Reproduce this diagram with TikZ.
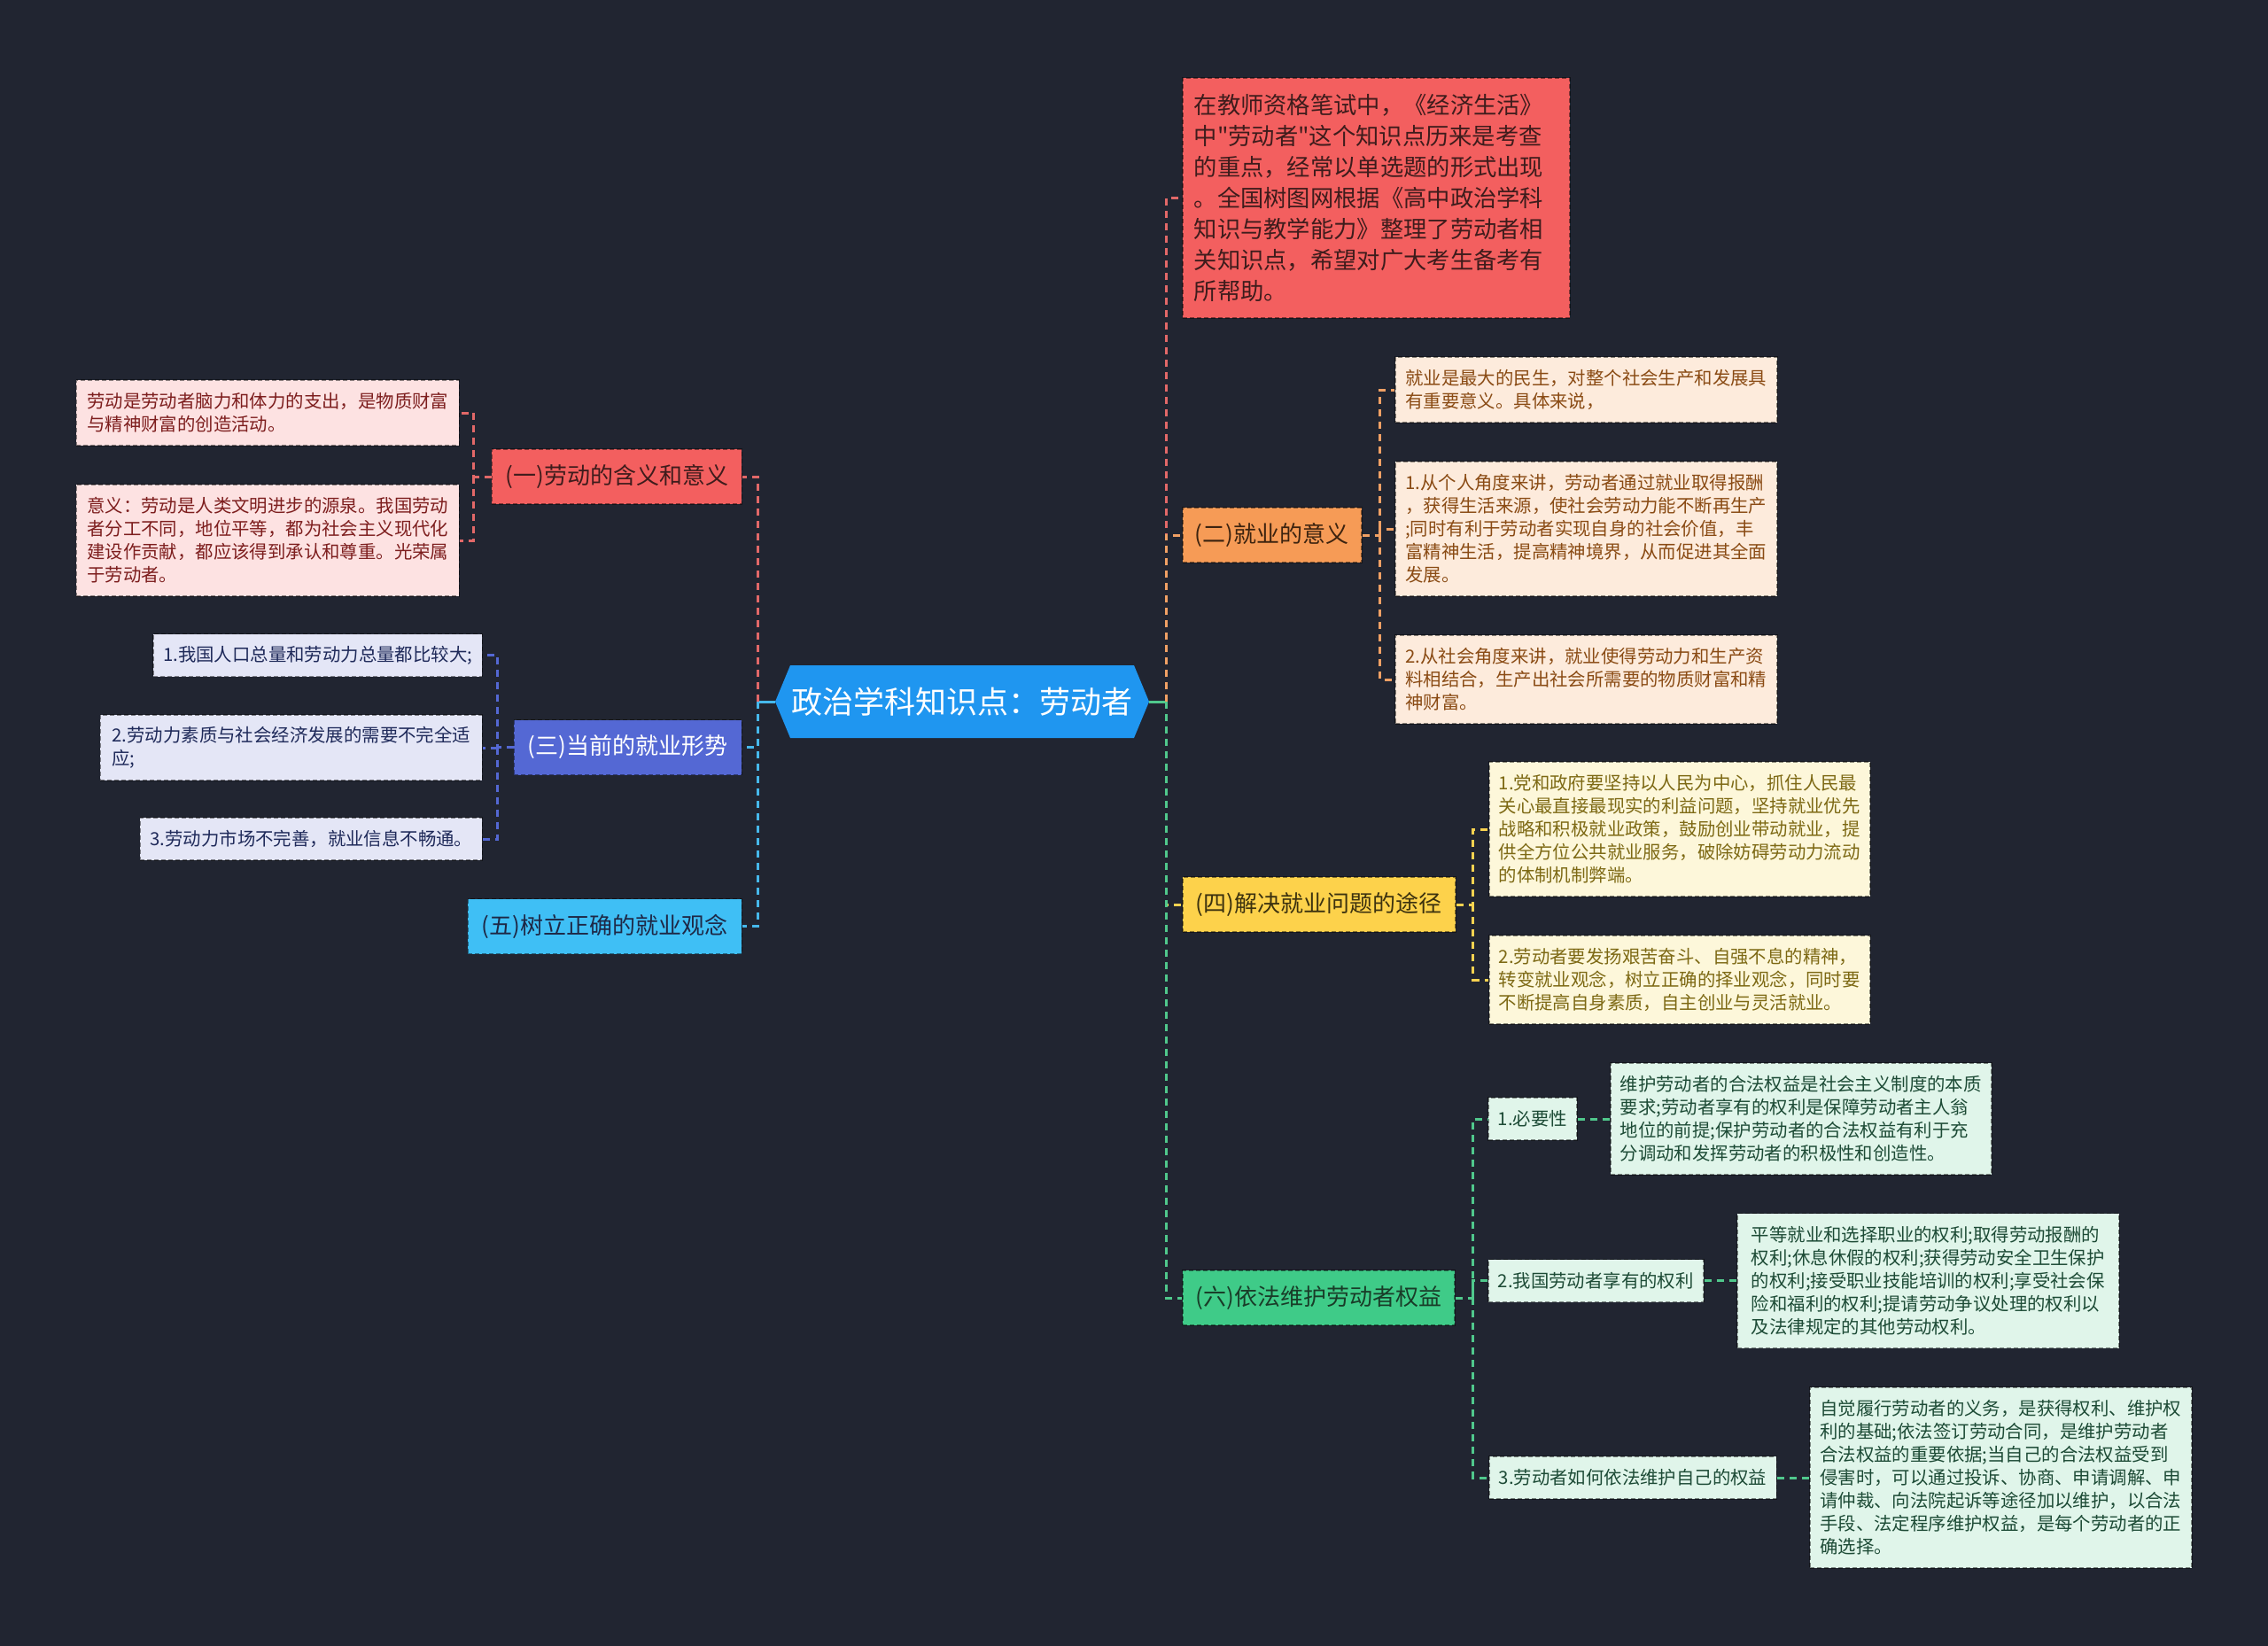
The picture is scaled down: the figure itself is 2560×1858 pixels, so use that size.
\documentclass[tikz,border=0pt]{standalone}
\usepackage{fontspec}
\setmainfont{Noto Sans CJK SC}[Ligatures=TeXOff]
\usetikzlibrary{calc}
\definecolor{bgc}{RGB}{33,37,49}
\definecolor{rootc}{RGB}{31,150,240}
\definecolor{redf}{RGB}{243,95,95}
\definecolor{redl}{RGB}{226,104,104}
\definecolor{redt}{RGB}{62,28,28}
\definecolor{pinkf}{RGB}{253,226,226}
\definecolor{pinkt}{RGB}{125,30,30}
\definecolor{indf}{RGB}{84,104,212}
\definecolor{indl}{RGB}{84,104,212}
\definecolor{lavf}{RGB}{228,230,246}
\definecolor{lavt}{RGB}{31,42,90}
\definecolor{cyanf}{RGB}{63,191,245}
\definecolor{cyanl}{RGB}{70,184,235}
\definecolor{cyant}{RGB}{30,40,70}
\definecolor{orf}{RGB}{246,155,86}
\definecolor{orl}{RGB}{240,160,100}
\definecolor{ort}{RGB}{60,35,15}
\definecolor{peachf}{RGB}{253,235,220}
\definecolor{peacht}{RGB}{138,75,20}
\definecolor{yef}{RGB}{253,210,75}
\definecolor{yel}{RGB}{250,210,80}
\definecolor{yet}{RGB}{60,50,15}
\definecolor{creamf}{RGB}{253,247,218}
\definecolor{creamt}{RGB}{125,105,20}
\definecolor{grf}{RGB}{63,203,136}
\definecolor{grl}{RGB}{80,200,140}
\definecolor{grt}{RGB}{25,60,40}
\definecolor{mintf}{RGB}{224,245,234}
\definecolor{mintt}{RGB}{29,75,54}
\begin{document}
\begin{tikzpicture}[x=1pt,y=-1pt,
  nbox/.style={draw=black, draw opacity=0.45, line width=1.5pt, dash pattern=on 5pt off 3pt, inner sep=0pt},
  lvl/.style={nbox, font=\fontsize{26}{32}\selectfont, minimum height=62pt, align=center},
  leaf/.style={nbox, font=\fontsize{20.4}{26}\selectfont, inner xsep=11pt, inner ysep=0pt, align=left},
  conn/.style={line width=3pt, dash pattern=on 8pt off 6pt},
  stub/.style={line width=3pt}]
\useasboundingbox (0,0) rectangle (2560,1858);
\fill[bgc] (0,0) rectangle (2560,1858);

% root
\fill[rootc] (875,792) -- (892,751) -- (1280,751) -- (1297,792) -- (1280,833) -- (892,833) -- cycle;
\node[inner sep=0pt, minimum width=422pt, minimum height=82pt, text=white, font=\fontsize{35}{40}\selectfont] (root) at (1086,792) {政治学科知识点：劳动者};

% intro
\node[nbox, fill=redf, text=redt, font=\fontsize{26.3}{35}\selectfont, align=left, text width=411pt, inner xsep=13pt, minimum height=271pt, anchor=west] (intro) at (1334,223.5) {在教师资格笔试中，《经济生活》\\中"劳动者"这个知识点历来是考查\\的重点，经常以单选题的形式出现\\。全国树图网根据《高中政治学科\\知识与教学能力》整理了劳动者相\\关知识点，希望对广大考生备考有\\所帮助。};

% right level 1
\node[lvl, fill=orf, text=ort, minimum width=202pt, anchor=west] (n2) at (1334,604) {(二)就业的意义};
\node[lvl, fill=yef, text=yet, minimum width=308pt, anchor=west] (n4) at (1334,1021) {(四)解决就业问题的途径};
\node[lvl, fill=grf, text=grt, minimum width=307pt, anchor=west] (n6) at (1334,1465) {(六)依法维护劳动者权益};

% left level 1
\node[lvl, fill=redf, text=redt, minimum width=282pt, anchor=east] (n1) at (838,538) {(一)劳动的含义和意义};
\node[lvl, fill=indf, text=white, minimum width=257pt, anchor=east] (n3) at (838,843.5) {(三)当前的就业形势};
\node[lvl, fill=cyanf, text=cyant, minimum width=309pt, anchor=east] (n5) at (838,1045.5) {(五)树立正确的就业观念};

% left leaves
\node[leaf, fill=pinkf, text=pinkt, minimum width=432pt, minimum height=74pt, anchor=east] (l1) at (519,466) {劳动是劳动者脑力和体力的支出，是物质财富\\与精神财富的创造活动。};
\node[leaf, fill=pinkf, text=pinkt, minimum width=432pt, minimum height=126pt, anchor=east] (l2) at (519,610) {意义：劳动是人类文明进步的源泉。我国劳动\\者分工不同，地位平等，都为社会主义现代化\\建设作贡献，都应该得到承认和尊重。光荣属\\于劳动者。};
\node[leaf, fill=lavf, text=lavt, minimum height=48pt, anchor=east] (t1) at (545,739.5) {1.我国人口总量和劳动力总量都比较大;};
\node[leaf, fill=lavf, text=lavt, minimum width=431pt, minimum height=74pt, anchor=east] (t2) at (545,844) {2.劳动力素质与社会经济发展的需要不完全适\\应;};
\node[leaf, fill=lavf, text=lavt, minimum height=48pt, anchor=east] (t3) at (545,947) {3.劳动力市场不完善，就业信息不畅通。};

% (二) leaves
\node[leaf, fill=peachf, text=peacht, minimum width=431pt, minimum height=74pt, anchor=west] (e1) at (1574,440) {就业是最大的民生，对整个社会生产和发展具\\有重要意义。具体来说，};
\node[leaf, fill=peachf, text=peacht, minimum width=431pt, minimum height=152pt, anchor=west] (e2) at (1574,597) {1.从个人角度来讲，劳动者通过就业取得报酬\\，获得生活来源，使社会劳动力能不断再生产\\;同时有利于劳动者实现自身的社会价值，丰\\富精神生活，提高精神境界，从而促进其全面\\发展。};
\node[leaf, fill=peachf, text=peacht, minimum width=431pt, minimum height=100pt, anchor=west] (e3) at (1574,767) {2.从社会角度来讲，就业使得劳动力和生产资\\料相结合，生产出社会所需要的物质财富和精\\神财富。};

% (四) leaves
\node[leaf, fill=creamf, text=creamt, minimum width=430pt, minimum height=152pt, anchor=west] (f1) at (1680,936) {1.党和政府要坚持以人民为中心，抓住人民最\\关心最直接最现实的利益问题，坚持就业优先\\战略和积极就业政策，鼓励创业带动就业，提\\供全方位公共就业服务，破除妨碍劳动力流动\\的体制机制弊端。};
\node[leaf, fill=creamf, text=creamt, minimum width=430pt, minimum height=100pt, anchor=west] (f2) at (1680,1106) {2.劳动者要发扬艰苦奋斗、自强不息的精神，\\转变就业观念，树立正确的择业观念，同时要\\不断提高自身素质，自主创业与灵活就业。};

% (六) children
\node[leaf, fill=mintf, text=mintt, minimum height=48pt, anchor=west] (g1) at (1679,1263) {1.必要性};
\node[leaf, fill=mintf, text=mintt, minimum height=48pt, anchor=west] (g2) at (1679,1445.5) {2.我国劳动者享有的权利};
\node[leaf, fill=mintf, text=mintt, minimum height=48pt, anchor=west] (g3) at (1680,1668) {3.劳动者如何依法维护自己的权益};
\node[leaf, fill=mintf, text=mintt, minimum width=430pt, minimum height=126pt, anchor=west] (g1a) at (1817,1263) {维护劳动者的合法权益是社会主义制度的本质\\要求;劳动者享有的权利是保障劳动者主人翁\\地位的前提;保护劳动者的合法权益有利于充\\分调动和发挥劳动者的积极性和创造性。};
\node[leaf, fill=mintf, text=mintt, minimum width=431pt, minimum height=152pt, anchor=west] (g2a) at (1960,1445.5) {平等就业和选择职业的权利;取得劳动报酬的\\权利;休息休假的权利;获得劳动安全卫生保护\\的权利;接受职业技能培训的权利;享受社会保\\险和福利的权利;提请劳动争议处理的权利以\\及法律规定的其他劳动权利。};
\node[leaf, fill=mintf, text=mintt, minimum width=431pt, minimum height=204pt, anchor=west] (g3a) at (2042,1668) {自觉履行劳动者的义务，是获得权利、维护权\\利的基础;依法签订劳动合同，是维护劳动者\\合法权益的重要依据;当自己的合法权益受到\\侵害时，可以通过投诉、协商、申请调解、申\\请仲裁、向法院起诉等途径加以维护，以合法\\手段、法定程序维护权益，是每个劳动者的正\\确选择。};

% connectors: root right
\coordinate (vr) at (1316,792);
\draw[stub, grl] (root.east) -- (vr);
\draw[conn, redl] (vr) |- (intro.west);
\draw[conn, orl] (vr) |- (n2.west);
\draw[conn, yel] (vr) |- (n4.west);
\draw[conn, grl] (vr) |- (n6.west);
% root left
\coordinate (vl) at (855,792);
\draw[stub, cyanl] (root.west) -- (vl);
\draw[conn, redl] (vl) |- (n1.east);
\draw[conn, cyanl] (vl) |- (n5.east);
\draw[conn, cyanl] (vl) |- (n3.east);
% (一)
\coordinate (v1) at ($(n1.west)+(-20,0)$);
\draw[conn, redl] (n1.west) -- (v1) |- (l1.east);
\draw[conn, redl] (v1) |- (l2.east);
% (三)
\coordinate (v3) at ($(n3.west)+(-18,0)$);
\draw[conn, indl] (n3.west) -- (v3) |- (t1.east);
\draw[conn, indl] (v3) |- (t2.east);
\draw[conn, indl] (v3) |- (t3.east);
% (二)
\coordinate (v2) at ($(n2.east)+(20,0)$);
\draw[conn, orl] (n2.east) -- (v2) |- (e1.west);
\draw[conn, orl] (v2) |- (e2.west);
\draw[conn, orl] (v2) |- (e3.west);
% (四)
\coordinate (v4) at ($(n4.east)+(19,0)$);
\draw[conn, yel] (n4.east) -- (v4) |- (f1.west);
\draw[conn, yel] (v4) |- (f2.west);
% (六)
\coordinate (v6) at ($(n6.east)+(20,0)$);
\draw[conn, grl] (n6.east) -- (v6) |- (g1.west);
\draw[conn, grl] (v6) |- (g2.west);
\draw[conn, grl] (v6) |- (g3.west);
\draw[conn, grl] (g1.east) -- (g1a.west);
\draw[conn, grl] (g2.east) -- (g2a.west);
\draw[conn, grl] (g3.east) -- (g3a.west);
\end{tikzpicture}
\end{document}
